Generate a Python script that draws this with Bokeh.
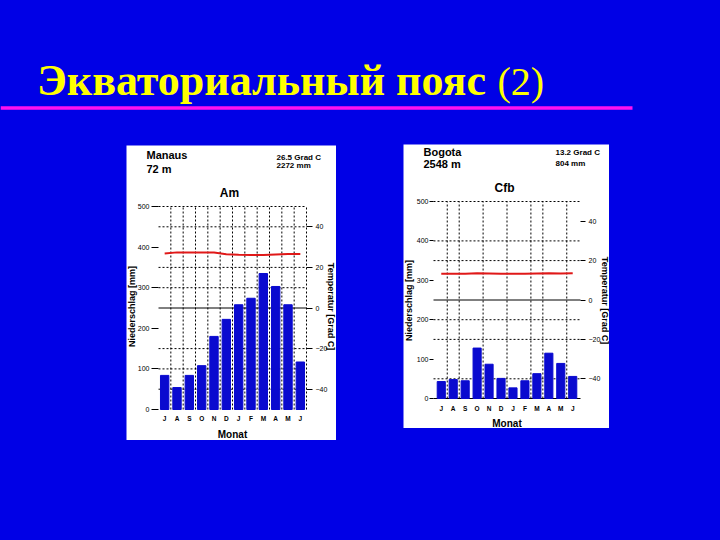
import math
from bokeh.plotting import figure
from bokeh.models import (Range1d, LinearAxis, FixedTicker, Spacer, GlobalInlineStyleSheet)
from bokeh.layouts import column, row
from bokeh.embed import file_html
from bokeh.resources import INLINE
from bokeh.core.properties import value

# ---------------- data ----------------
months = ["J", "A", "S", "O", "N", "D", "J", "F", "M", "A", "M", "J"]
manaus_precip = [84, 54, 84, 108, 180, 222, 258, 274, 335, 303, 258, 117]
manaus_temp = [26.8, 27.4, 27.4, 27.4, 27.3, 26.5, 26.2, 26.1, 26.1, 26.4, 26.6, 26.6]
bogota_precip = [43, 48, 45, 128, 87, 51, 27, 45, 63, 115, 89, 56]
bogota_temp = [13.3, 13.3, 13.3, 13.6, 13.5, 13.3, 13.3, 13.3, 13.5, 13.6, 13.4, 13.6]
precip_ticks = [0, 100, 200, 300, 400, 500]
temp_ticks = [-40, -20, 0, 20, 40]

title_main = "Экваториальный пояс"
title_num = "(2)"

BG = "#0000E6"
BAR = "#0A0ACF"
RED = "#E01818"
SANS = "Liberation Sans"
SERIF = "Liberation Serif"
MID = 0.34  # em offset from alphabetic baseline to the text middle

# temperature axis: T -> precipitation scale P = 250 + 5 T
P_MAX = 500.0


def t_of_p(p):
    return (p - 250.0) / 5.0


def make_panel(cfg):
    ox, oy = cfg["origin"]
    W, H = cfg["size"]
    fl, ft, fr, fb = cfg["frame"]
    x0, x1 = cfg["xr"]
    sx = (fr - fl) / (x1 - x0)
    sy = (fb - ft) / P_MAX
    X0 = x0 - (fl - ox) / sx
    X1 = x1 + (ox + W - fr) / sx
    Y0 = -(oy + H - fb) / sy
    Y1 = P_MAX + (ft - oy) / sy

    def fx(px):
        return X0 + (px - ox) / sx

    def fy(py):
        return Y1 - (py - oy) / sy

    p = figure(width=W, height=H, x_range=Range1d(X0, X1), y_range=Range1d(Y0, Y1),
               output_backend="svg", toolbar_location=None,
               x_axis_location=None, y_axis_location=None, min_border=0,
               background_fill_color="white", border_fill_color="white",
               outline_line_color=None)
    p.grid.visible = False
    p.extra_y_ranges = {"temp": Range1d(t_of_p(Y0), t_of_p(Y1))}

    # grid lines (dotted), zero-temperature line solid
    hl = cfg["hlines"]
    p.segment(x0=[x0] * len(hl), y0=hl, x1=[x1] * len(hl), y1=hl,
              line_color="black", line_width=1, line_dash="2 2")
    vl = cfg["vlines"]
    p.segment(x0=vl, y0=[0] * len(vl), x1=vl, y1=[P_MAX] * len(vl),
              line_color="black", line_width=1, line_dash="2 2")
    solid = [250] + ([0] if cfg["baseline"] else [])
    p.segment(x0=[x0] * len(solid), y0=solid, x1=[x1] * len(solid), y1=solid,
              line_color="black", line_width=1)

    xs = list(range(1, len(months) + 1))
    p.vbar(x=xs, top=cfg["precip"], width=0.68, color=BAR)
    p.line(x=xs, y=cfg["temp"], y_range_name="temp", color=RED, line_width=2)

    # axes fixed at the frame edges
    la = LinearAxis(ticker=FixedTicker(ticks=precip_ticks), fixed_location=x0,
                    axis_line_color=None, major_tick_out=cfg["ltick"], major_tick_in=0,
                    minor_tick_line_color=None, major_label_standoff=cfg["lstand"],
                    major_label_text_font_size="7px", major_label_text_font=SANS,
                    major_label_text_color="black", major_tick_line_color="black")
    p.add_layout(la, "left")
    ra = LinearAxis(y_range_name="temp", ticker=FixedTicker(ticks=temp_ticks),
                    fixed_location=x1, axis_line_color=None,
                    major_tick_out=cfg["rtick"], major_tick_in=0,
                    minor_tick_line_color=None, major_label_standoff=cfg["rstand"],
                    major_label_text_font_size="7px", major_label_text_font=SANS,
                    major_label_text_color="black", major_tick_line_color="black")
    p.add_layout(ra, "right")
    ba = LinearAxis(ticker=FixedTicker(ticks=xs), fixed_location=0,
                    major_label_overrides={i: m for i, m in zip(xs, months)},
                    axis_line_color=None, major_tick_line_color=None,
                    minor_tick_line_color=None, major_tick_out=0, major_tick_in=0,
                    major_label_standoff=cfg["bstand"], major_label_text_font_size="6.5px",
                    major_label_text_font=SANS, major_label_text_font_style="bold",
                    major_label_text_color="black")
    p.add_layout(ba, "below")

    for (txt, px, py, size, align, ang) in cfg["texts"]:
        # py is the alphabetic baseline for horizontal texts, centre for rotated ones
        yy = py if ang else py - MID * size
        p.text(x=[fx(px)], y=[fy(yy)], text=[txt], text_font=value(SANS),
               text_font_size=f"{size}px", text_font_style="bold",
               text_align=align, text_baseline="middle", angle=ang, text_color="black")
    return p


manaus_cfg = dict(
    origin=(126, 145), size=(210, 295), frame=(158, 206, 306, 409), xr=(0.5, 12.5),
    precip=manaus_precip, temp=manaus_temp,
    hlines=[500, 450, 350, 300, 150, 100, 50],
    vlines=[1.5, 2.5, 3.5, 4.5, 5.5, 6.5, 7.5, 8.5, 9.5, 10.5, 11.5, 12.5],
    baseline=False, ltick=7, lstand=2, rtick=6, rstand=3, bstand=5,
    texts=[
        ("Manaus", 146, 158, 11, "left", 0),
        ("72 m", 146, 172, 11, "left", 0),
        ("26.5 Grad C", 276, 160, 8, "left", 0),
        ("2272 mm", 276, 168, 8, "left", 0),
        ("Am", 229, 197, 12, "center", 0),
        ("Niederschlag [mm]", 131, 306, 9, "center", math.pi / 2),
        ("Temperatur [Grad C]", 330.5, 306, 9, "center", -math.pi / 2),
        ("Monat", 232, 437, 10, "center", 0),
    ],
)

bogota_cfg = dict(
    origin=(403, 144), size=(206, 284), frame=(433, 201, 580, 398), xr=(0.35, 12.65),
    precip=bogota_precip, temp=bogota_temp,
    hlines=[500, 400, 350, 200, 150, 50],
    vlines=[1.5, 2.5, 4.5, 6.5, 8.5, 9.5, 11.5],
    baseline=True, ltick=4, lstand=1, rtick=5, rstand=3, bstand=6,
    texts=[
        ("Bogota", 423, 155.5, 11, "left", 0),
        ("2548 m", 423, 167, 11, "left", 0),
        ("13.2 Grad C", 555, 155, 8, "left", 0),
        ("804 mm", 555, 165.5, 8, "left", 0),
        ("Cfb", 504, 192, 12, "center", 0),
        ("Niederschlag [mm]", 408, 300, 9, "center", math.pi / 2),
        ("Temperatur [Grad C]", 604, 300, 9, "center", -math.pi / 2),
        ("Monat", 506.5, 426, 10, "center", 0),
    ],
)

# ---------------- title band (page coordinates; page origin at 0,0) ----------------
TH = 140
tp = figure(width=720, height=TH, x_range=Range1d(0, 720), y_range=Range1d(TH, 0),
            output_backend="svg", toolbar_location=None,
            x_axis_location=None, y_axis_location=None, min_border=0,
            background_fill_color=BG, border_fill_color=BG, outline_line_color=None)
tp.grid.visible = False
tp.line(x=[0, 632], y=[107.5, 107.5], color="#FF10F0", line_width=3.5)
tp.text(x=[36.5], y=[95 - MID * 44], text=[title_main], text_font=value(SERIF),
        text_font_size="44px", text_font_style="bold", text_color="#FFFF00",
        text_align="left", text_baseline="middle")
tp.text(x=[497], y=[95 - MID * 40], text=[title_num], text_font=value(SERIF),
        text_font_size="40px", text_font_style="normal", text_color="#FFFF00",
        text_align="left", text_baseline="middle")

pm = make_panel(manaus_cfg)
pb = make_panel(bogota_cfg)

mx, my = manaus_cfg["origin"]
bx, by = bogota_cfg["origin"]
left_col = column(Spacer(width=1, height=my - TH), pm)
right_col = column(Spacer(width=1, height=by - TH), pb)
body = row(Spacer(width=mx, height=1), left_col,
           Spacer(width=bx - (mx + manaus_cfg["size"][0]), height=1), right_col)

root = column(tp, body,
              stylesheets=[GlobalInlineStyleSheet(
                  css=f"html, body {{ margin: 0; padding: 0; background-color: {BG} !important; }}")])

open("out.html", "w").write(file_html(root, INLINE))
